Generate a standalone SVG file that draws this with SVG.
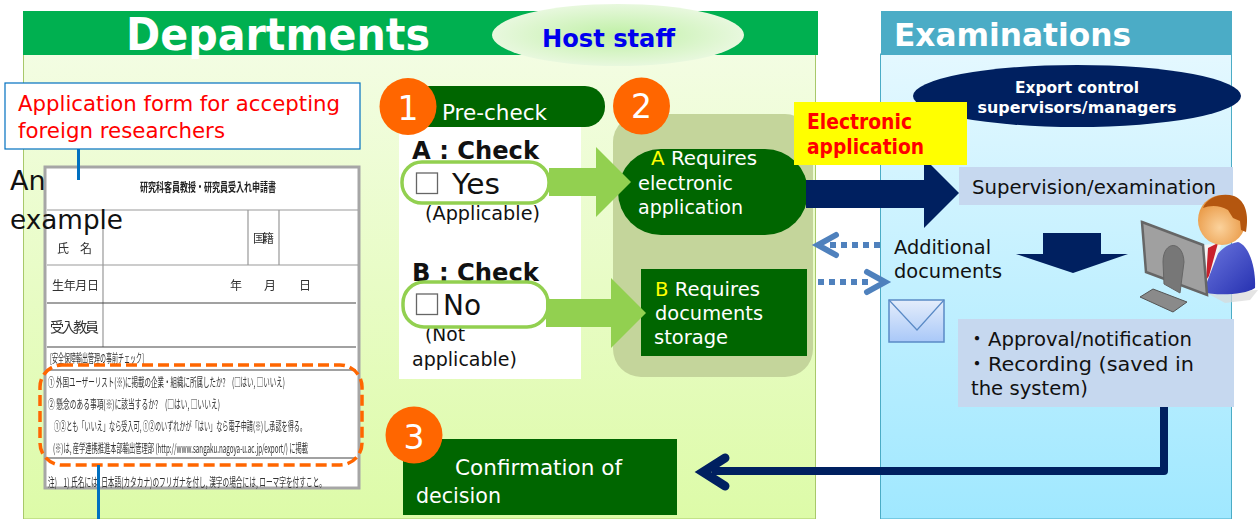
<svg xmlns="http://www.w3.org/2000/svg" width="1259" height="519" viewBox="0 0 1259 519">
<style>
text{font-family:"DejaVu Sans","Noto Sans CJK JP",sans-serif}
.w{fill:#fff}.k{fill:#111}.y{fill:#ff0}
.t20{font-size:20px}.t22{font-size:22px}
.b{font-weight:bold}
.dg{fill:#006600}
.num{font-size:33px;fill:#fff;text-anchor:middle}
.o{fill:#ff6600}
.jp{font-family:"Noto Sans CJK JP",sans-serif;font-size:12px;fill:#333}
.jph{font-family:"Noto Sans CJK JP",sans-serif;font-size:12px;fill:#222;font-weight:bold}
.fl{stroke:#999;stroke-width:1.200;fill:none}
.fd{stroke:#444;stroke-width:1.200;fill:none}
.pale{fill:#c6d8ef}
.cb{fill:#fff;stroke:#666;stroke-width:1.300}
.gp{fill:#fff;stroke:#92d050;stroke-width:3.500}
.dot{fill:none;stroke:#4f81bd;stroke-width:6;stroke-dasharray:6 5}
.dh{fill:none;stroke:#4f81bd;stroke-width:6;stroke-linejoin:miter;stroke-linecap:round}
</style>
<defs>
<linearGradient id="gg" x1="0" y1="0" x2="0" y2="1"><stop offset="0" stop-color="#f3fde3"/><stop offset="1" stop-color="#ddfba8"/></linearGradient>
<linearGradient id="bg" x1="0" y1="0" x2="0" y2="1"><stop offset="0" stop-color="#e4f8ff"/><stop offset="1" stop-color="#a0e8ff"/></linearGradient>
<radialGradient id="hs"><stop offset="0" stop-color="#bff0a5"/><stop offset="1" stop-color="#e8f8de"/></radialGradient>
<linearGradient id="env" x1="0" y1="0" x2="0" y2="1"><stop offset="0" stop-color="#e4edfb"/><stop offset="1" stop-color="#a9c8f8"/></linearGradient>
<radialGradient id="head" cx=".45" cy=".65" r=".6"><stop offset="0" stop-color="#fbd29c"/><stop offset="1" stop-color="#e8953f"/></radialGradient>
<linearGradient id="suit" x1="0" y1="0" x2="1" y2="1"><stop offset="0" stop-color="#6d78e0"/><stop offset="1" stop-color="#2530b0"/></linearGradient>
<filter id="soft" x="-5%" y="-5%" width="110%" height="110%"><feGaussianBlur stdDeviation="0.4"/></filter>
</defs>

<g id="departments-panel">
<rect x="23.500" y="50" width="792" height="469" fill="url(#gg)" stroke="#a8c86a" stroke-width="1"/>
<rect x="23" y="11" width="795" height="44" fill="#00b050"/>
<text x="126" y="50" class="w b" font-size="44" textLength="304" lengthAdjust="spacingAndGlyphs">Departments</text>
</g>
<g id="host-staff">
<ellipse cx="618" cy="35" rx="126" ry="31" fill="url(#hs)"/>
<text x="542" y="47" font-size="25" class="b" fill="#0000ee" textLength="133" lengthAdjust="spacingAndGlyphs">Host staff</text>
</g>

<g id="examinations-panel">
<rect x="880.500" y="54" width="351" height="465" fill="url(#bg)" stroke="#4bacc6" stroke-width="1"/>
<rect x="881" y="11" width="351" height="44" fill="#4bacc6"/>
<text x="894" y="46" class="w b" font-size="32" textLength="237" lengthAdjust="spacingAndGlyphs">Examinations</text>
</g>
<g id="supervisors">
<ellipse cx="1077" cy="96" rx="164" ry="31" fill="#002060"/>
<text x="1077" y="93" class="w b" font-size="15.500" text-anchor="middle" textLength="124" lengthAdjust="spacingAndGlyphs">Export control</text>
<text x="1077" y="113" class="w b" font-size="15.500" text-anchor="middle" textLength="199" lengthAdjust="spacingAndGlyphs">supervisors/managers</text>
</g>

<g id="application-form-label">
<rect x="5" y="83" width="355" height="66" fill="#fff" stroke="#0070c0" stroke-width="1.200"/>
<text x="18" y="111" class="t22" fill="#ff0000" textLength="322" lengthAdjust="spacingAndGlyphs">Application form for accepting</text>
<text x="18" y="138" class="t22" fill="#ff0000" textLength="207" lengthAdjust="spacingAndGlyphs">foreign researchers</text>
</g>

<g id="form-image">
<rect x="45" y="167" width="314" height="321" fill="#fff" stroke="#a6a6a6" stroke-width="3"/>
<path class="fl" d="M47 210H358M47 265H358M103 210V347M248 210V265M279 210V265"/>
<path class="fd" d="M47 303H356M47 347H356M47 370H356M47 458H356"/>
<g filter="url(#soft)">
<text x="140" y="192" class="jph" font-size="13" textLength="136" lengthAdjust="spacingAndGlyphs">研究科客員教授・研究員受入れ申請書</text>
<text x="57" y="253" class="jp" textLength="35">氏　名</text>
<text x="253" y="243" class="jp" textLength="21">国籍</text>
<text x="52" y="290" class="jp" textLength="47">生年月日</text>
<text x="230" y="290" class="jp">年</text><text x="264" y="290" class="jp">月</text><text x="299" y="290" class="jp">日</text>
<text x="50" y="332" class="jp" textLength="49" style="font-size:14px">受入教員</text>
<text x="50" y="363" class="jp" textLength="94" lengthAdjust="spacingAndGlyphs">[安全保障輸出管理の事前チェック]</text>
<text x="48" y="387" class="jp" textLength="237" lengthAdjust="spacingAndGlyphs">① 外国ユーザーリスト(※)に掲載の企業・組織に所属したか?　(□はい, □いいえ)</text>
<text x="48" y="409" class="jp" textLength="172" lengthAdjust="spacingAndGlyphs">② 懸念のある事項(※)に該当するか?　(□はい, □いいえ)</text>
<text x="54" y="431" class="jp" textLength="252" lengthAdjust="spacingAndGlyphs">①②とも「いいえ」なら受入可, ①②のいずれかが「はい」なら電子申請(※)し承認を得る。</text>
<text x="53" y="453" class="jp" textLength="255" lengthAdjust="spacingAndGlyphs">(※)は, 産学連携推進本部輸出管理部 (http://www.sangaku.nagoya-u.ac.jp/export/) に掲載</text>
<text x="48" y="487" class="jp" textLength="278" lengthAdjust="spacingAndGlyphs">注)　1) 氏名には, 日本語(カタカナ)のフリガナを付し, 漢字の場合には, ローマ字を付すこと。</text>
</g>
<rect x="40" y="365" width="322" height="100" rx="22" fill="none" stroke="#ff6600" stroke-width="3.500" stroke-dasharray="11 5"/>
</g>
<g id="an-example">
<text x="10" y="190" font-size="27" class="k">An</text>
<text x="10" y="229" font-size="27" class="k" textLength="113" lengthAdjust="spacingAndGlyphs">example</text>
</g>

<g id="step2-group"><rect x="613" y="114" width="200" height="263" rx="28" fill="#c4d59b"/></g>
<g id="precheck-panel"><rect x="399" y="125" width="182" height="254" fill="#fff"/></g>

<g id="pre-check">
<rect x="405" y="86" width="200" height="41" rx="20" class="dg"/>
<text x="442" y="120" class="t22 w" textLength="105" lengthAdjust="spacingAndGlyphs">Pre-check</text>
</g>
<g id="badge-1"><circle cx="408" cy="106.500" r="28.500" class="o"/><text x="408" y="120" class="num">1</text></g>
<g id="badge-2"><circle cx="641.500" cy="106" r="28.500" class="o"/><text x="641.500" y="118" class="num">2</text></g>

<g id="check-a">
<text x="412" y="159" font-size="25" class="k b" textLength="127" lengthAdjust="spacingAndGlyphs">A : Check</text>
<rect x="402" y="162" width="147" height="41" rx="20" class="gp"/>
<rect x="416.500" y="173" width="21" height="20.500" class="cb"/>
<text x="452" y="194" font-size="29" class="k" textLength="48" lengthAdjust="spacingAndGlyphs">Yes</text>
<text x="425" y="220" font-size="19" class="k" textLength="115" lengthAdjust="spacingAndGlyphs">(Applicable)</text>
</g>
<g id="check-b">
<text x="412" y="281" font-size="25" class="k b" textLength="127" lengthAdjust="spacingAndGlyphs">B : Check</text>
<text x="425" y="341" font-size="19" class="k" textLength="40" lengthAdjust="spacingAndGlyphs">(Not</text>
<text x="412" y="366" font-size="19" class="k" textLength="105" lengthAdjust="spacingAndGlyphs">applicable)</text>
<rect x="403" y="282" width="145" height="45" rx="21" class="gp"/>
<rect x="416.500" y="294" width="21" height="20.500" class="cb"/>
<text x="443" y="315" font-size="29" class="k" textLength="38" lengthAdjust="spacingAndGlyphs">No</text>
</g>

<g id="requires-electronic">
<rect x="618" y="149" width="190" height="86" rx="43" class="dg"/>
<text x="651" y="165" class="t20 w" textLength="106" lengthAdjust="spacingAndGlyphs"><tspan class="y">A</tspan> Requires</text>
<text x="638" y="190" class="t20 w" textLength="95" lengthAdjust="spacingAndGlyphs">electronic</text>
<text x="638" y="214" class="t20 w" textLength="105" lengthAdjust="spacingAndGlyphs">application</text>
</g>
<g id="requires-storage">
<rect x="641" y="269" width="166" height="87" class="dg"/>
<text x="655" y="296" class="t20 w" textLength="105" lengthAdjust="spacingAndGlyphs"><tspan class="y">B</tspan> Requires</text>
<text x="655" y="320" class="t20 w" textLength="108" lengthAdjust="spacingAndGlyphs">documents</text>
<text x="654" y="344" class="t20 w" textLength="74" lengthAdjust="spacingAndGlyphs">storage</text>
</g>
<g id="confirmation">
<rect x="403" y="439" width="274" height="76" class="dg"/>
<text x="455" y="475" class="t22 w" textLength="167" lengthAdjust="spacingAndGlyphs">Confirmation of</text>
<text x="416" y="503" class="t22 w" textLength="85" lengthAdjust="spacingAndGlyphs">decision</text>
</g>
<g id="badge-3"><circle cx="414" cy="435" r="28.500" class="o"/><text x="414" y="449" class="num">3</text></g>

<g id="supervision">
<rect x="959" y="167" width="274" height="38" class="pale"/>
<text x="972" y="194" class="t20 k" textLength="244" lengthAdjust="spacingAndGlyphs">Supervision/examination</text>
</g>
<g id="additional-documents">
<text x="894" y="254" class="t20 k" textLength="97" lengthAdjust="spacingAndGlyphs">Additional</text>
<text x="894" y="278" class="t20 k" textLength="108" lengthAdjust="spacingAndGlyphs">documents</text>
</g>
<g id="envelope">
<rect x="889" y="300" width="55" height="42" fill="url(#env)" stroke="#5a8ac6" stroke-width="1.500"/>
<path d="M889 300 917 330 944 300" fill="none" stroke="#5a8ac6" stroke-width="1.200"/>
</g>
<g id="approval">
<rect x="958" y="319" width="276" height="88" class="pale"/>
<text class="t20 k"><tspan x="967" y="346">・</tspan><tspan x="988" y="346" textLength="204" lengthAdjust="spacingAndGlyphs">Approval/notification</tspan></text>
<text class="t20 k"><tspan x="967" y="371">・</tspan><tspan x="988" y="371" textLength="206" lengthAdjust="spacingAndGlyphs">Recording (saved in</tspan></text>
<text x="971" y="395" class="t20 k" textLength="117" lengthAdjust="spacingAndGlyphs">the system)</text>
</g>

<g id="connectors">
<path d="M78.500 149V180M98.500 465V519" stroke="#0070c0" stroke-width="3" fill="none"/>
<path d="M549 168H596V147L631 182 596 217V196H549Z" fill="#92d050"/>
<path d="M546 299H611V278L646 313 611 348V327H546Z" fill="#92d050"/>
<path d="M806 180H924V158L959 193 924 228V208H806Z" fill="#002060"/>
<path d="M1043 233H1101V254H1128L1073 273 1016 254H1043Z" fill="#002060"/>
<path class="dot" d="M880 245H828"/>
<path class="dh" d="M836 235 818 245 836 255"/>
<path class="dot" d="M818 282H872"/>
<path class="dh" d="M867 272 885 282 867 292"/>
<path d="M1164 407V471H712" fill="none" stroke="#002060" stroke-width="8" stroke-linejoin="round"/>
<path d="M725 458 703 472 725 486" fill="none" stroke="#002060" stroke-width="9" stroke-linecap="round" stroke-linejoin="miter"/>
</g>

<g id="electronic-application">
<rect x="794" y="102" width="173" height="63" fill="#ff0"/>
<text x="807" y="129" font-size="20.500" class="b" fill="#ff0000" textLength="105" lengthAdjust="spacingAndGlyphs">Electronic</text>
<text x="807" y="154" font-size="20.500" class="b" fill="#ff0000" textLength="117" lengthAdjust="spacingAndGlyphs">application</text>
</g>

<g id="person-icon">
<path d="M1205 292 1258 290 1250 300 1225 303Z" fill="#d8d8d8" opacity=".7"/>
<path d="M1204 292C1207 262 1220 245 1238 242 1250 246 1256 270 1255 288 1245 295 1215 296 1204 292Z" fill="url(#suit)"/>
<path d="M1203 245 1222 243 1207 282Z" fill="#f4f4f4"/>
<path d="M1208 248 1218 243 1209 276 1206 280Z" fill="#c8202c"/>
<ellipse cx="1222" cy="220" rx="24" ry="25" fill="url(#head)"/>
<path d="M1203 208C1207 197 1222 192 1234 196 1246 201 1249 215 1246 232L1241 230 1240 221 1233 218 1228 210C1220 205 1210 205 1203 208Z" fill="#b4560f"/>
<path d="M1142 222 1203 245 1207 295 1146 272Z" fill="#a0a0a0" stroke="#666" stroke-width="2.500"/>
<path d="M1163 262C1163 240 1183 240 1184 262L1180 293 1164 284Z" fill="#777" stroke="#666"/>
<path d="M1140 297 1153 289 1187 302 1173 312Z" fill="#8a8a8a" stroke="#555" stroke-width="1"/>
</g>
</svg>
